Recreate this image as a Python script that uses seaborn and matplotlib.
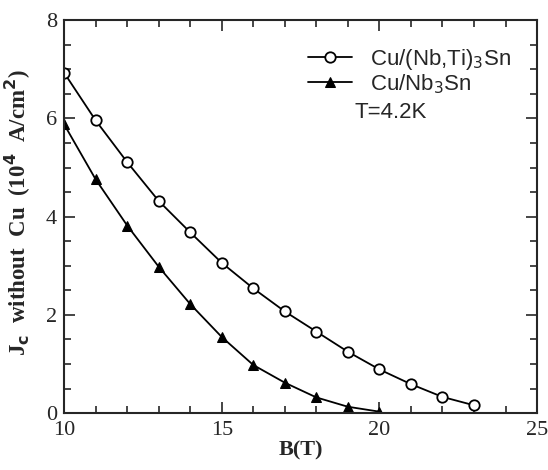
import pandas as pd
import matplotlib.pyplot as plt
from matplotlib.ticker import MultipleLocator
import seaborn as sns

# data
b_nbti = [10, 11, 12, 13, 14, 15, 16, 17, 18, 19, 20, 21, 22, 23]
jc_nbti = [6.93, 5.96, 5.11, 4.32, 3.68, 3.06, 2.54, 2.07, 1.66, 1.25, 0.89, 0.59, 0.33, 0.16]
b_nb = [10, 11, 12, 13, 14, 15, 16, 17, 18, 19, 20]
jc_nb = [5.88, 4.76, 3.82, 2.98, 2.22, 1.55, 0.98, 0.62, 0.32, 0.13, 0.03]

sns.set_style("ticks")
plt.rcParams['font.family'] = ['Liberation Serif', 'DejaVu Serif']

fig = plt.figure(figsize=(5.48, 4.70), dpi=100)
ax = fig.add_axes([0.117, 0.121, 0.863, 0.836])

sns.lineplot(x=b_nbti, y=jc_nbti, ax=ax, color='black', lw=1.3, marker='o',
             markersize=7.5, markerfacecolor='white', markeredgecolor='black',
             markeredgewidth=1.3, label=r'Cu/(Nb,Ti)$_3$Sn')
sns.lineplot(x=b_nb, y=jc_nb, ax=ax, color='black', lw=1.3, marker='^',
             markersize=6.5, markerfacecolor='black', markeredgecolor='black',
             label=r'Cu/Nb$_3$Sn')

ax.set_xlim(10, 25)
ax.set_ylim(0, 8)
ax.xaxis.set_major_locator(MultipleLocator(5))
ax.xaxis.set_minor_locator(MultipleLocator(1))
ax.yaxis.set_major_locator(MultipleLocator(2))
ax.yaxis.set_minor_locator(MultipleLocator(0.5))
ax.tick_params(which='both', direction='in', top=True, right=True, labelsize=16, width=1.2)
ax.tick_params(which='major', length=8)
ax.tick_params(which='minor', length=5)
ax.tick_params(axis='x', pad=6)
ax.tick_params(axis='y', pad=5)
for s in ax.spines.values():
    s.set_linewidth(1.5)

ax.set_xlabel('B(T)', fontsize=16, fontweight='bold', labelpad=0)
ax.set_ylabel(r'J$_\mathbf{c}$  without  Cu  (10$^\mathbf{4}$  A/cm$^\mathbf{2}$)',
              fontsize=16.5, fontweight='bold')
ax.yaxis.set_label_coords(-0.066, 0.51)

leg = ax.legend(loc='upper left', bbox_to_anchor=(0.515, 0.932), frameon=False,
                borderaxespad=0, borderpad=0,
                prop={'family': 'Liberation Sans', 'size': 16},
                handlelength=2.0, handletextpad=0.8, labelspacing=0.0)
ax.text(0.614, 0.765, 'T=4.2K', transform=ax.transAxes, fontsize=16,
        family='Liberation Sans', va='center')

plt.savefig('out.png', dpi=100)
